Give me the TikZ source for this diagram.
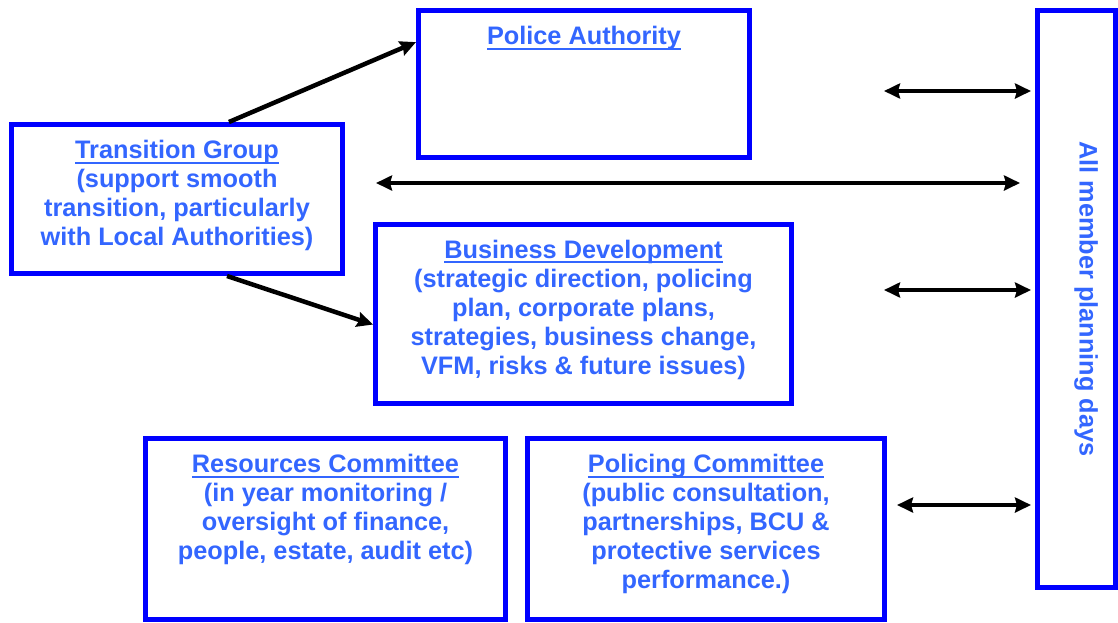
\documentclass[tikz,border=0pt]{standalone}
\usepackage{fontspec}
\setmainfont{Liberation Sans}
\usetikzlibrary{arrows.meta}
\definecolor{boxblue}{RGB}{0,0,255}
\definecolor{txtblue}{RGB}{51,102,255}
\newsavebox{\headbox}
\newcommand{\uhead}[1]{\sbox{\headbox}{#1}\rlap{\rule[-5pt]{\wd\headbox}{1.8pt}}\usebox{\headbox}}
\begin{document}
\begin{tikzpicture}[x=1pt,y=-1pt,>={Stealth[length=16pt,width=15pt,inset=2pt]},
  box/.style={draw=boxblue,line width=5pt,inner sep=0pt},
  txt/.style={text=txtblue,font=\bfseries\fontsize{25.3}{29}\selectfont,align=center,inner sep=0pt},
  link/.style={line width=4.5pt,->}]
 \path[use as bounding box,fill=white] (0,0) rectangle (1118,622);
 % boxes
 \node[box,minimum width=331pt,minimum height=147pt] (pa) at (584,84) {};
 \node[box,minimum width=331pt,minimum height=149pt] (tg) at (177,199) {};
 \node[box,minimum width=416pt,minimum height=179pt] (bd) at (583.5,313.5) {};
 \node[box,minimum width=360pt,minimum height=181pt] (rc) at (325.5,529) {};
 \node[box,minimum width=357pt,minimum height=181pt] (pc) at (706,529) {};
 \node[box,minimum width=78pt,minimum height=577pt] (am) at (1076.5,299) {};
 % texts
 \node[txt,anchor=north] (pa-t) at ([yshift=-18pt]pa.north) {\uhead{Police Authority}};
 \node[txt,anchor=north] (tg-t) at ([yshift=-18pt]tg.north) {\uhead{Transition Group}\\(support smooth\\transition, particularly\\with Local Authorities)};
 \node[txt,anchor=north] (bd-t) at ([yshift=-18pt]bd.north) {\uhead{Business Development}\\(strategic direction, policing\\plan, corporate plans,\\strategies, business change,\\VFM, risks \& future issues)};
 \node[txt,anchor=north] (rc-t) at ([yshift=-18pt]rc.north) {\uhead{Resources Committee}\\(in year monitoring /\\oversight of finance,\\people, estate, audit etc)};
 \node[txt,anchor=north] (pc-t) at ([yshift=-18pt]pc.north) {\uhead{Policing Committee}\\(public consultation,\\partnerships, BCU \&\\protective services\\performance.)};
 \node[txt,rotate=-90] (am-t) at (1086,299) {All member planning days};
 % arrows
 \draw[link] (tg.56.5) -- (pa.166.6);
 \draw[link] (tg.303.5) -- (bd.183.9);
 \coordinate (pa-r) at (884,91);
 \coordinate (tg-r) at (376,183);
 \coordinate (bd-r) at (884,290);
 \coordinate (pc-r) at (897,505);
 \draw[link,<->,shorten >=4pt] (pa-r) -- (pa-r -| am.west);
 \draw[link,<->,shorten >=15pt] (tg-r) -- (tg-r -| am.west);
 \draw[link,<->,shorten >=4pt] (bd-r) -- (bd-r -| am.west);
 \draw[link,<->,shorten >=4pt] (pc-r) -- (pc-r -| am.west);
\end{tikzpicture}
\end{document}
